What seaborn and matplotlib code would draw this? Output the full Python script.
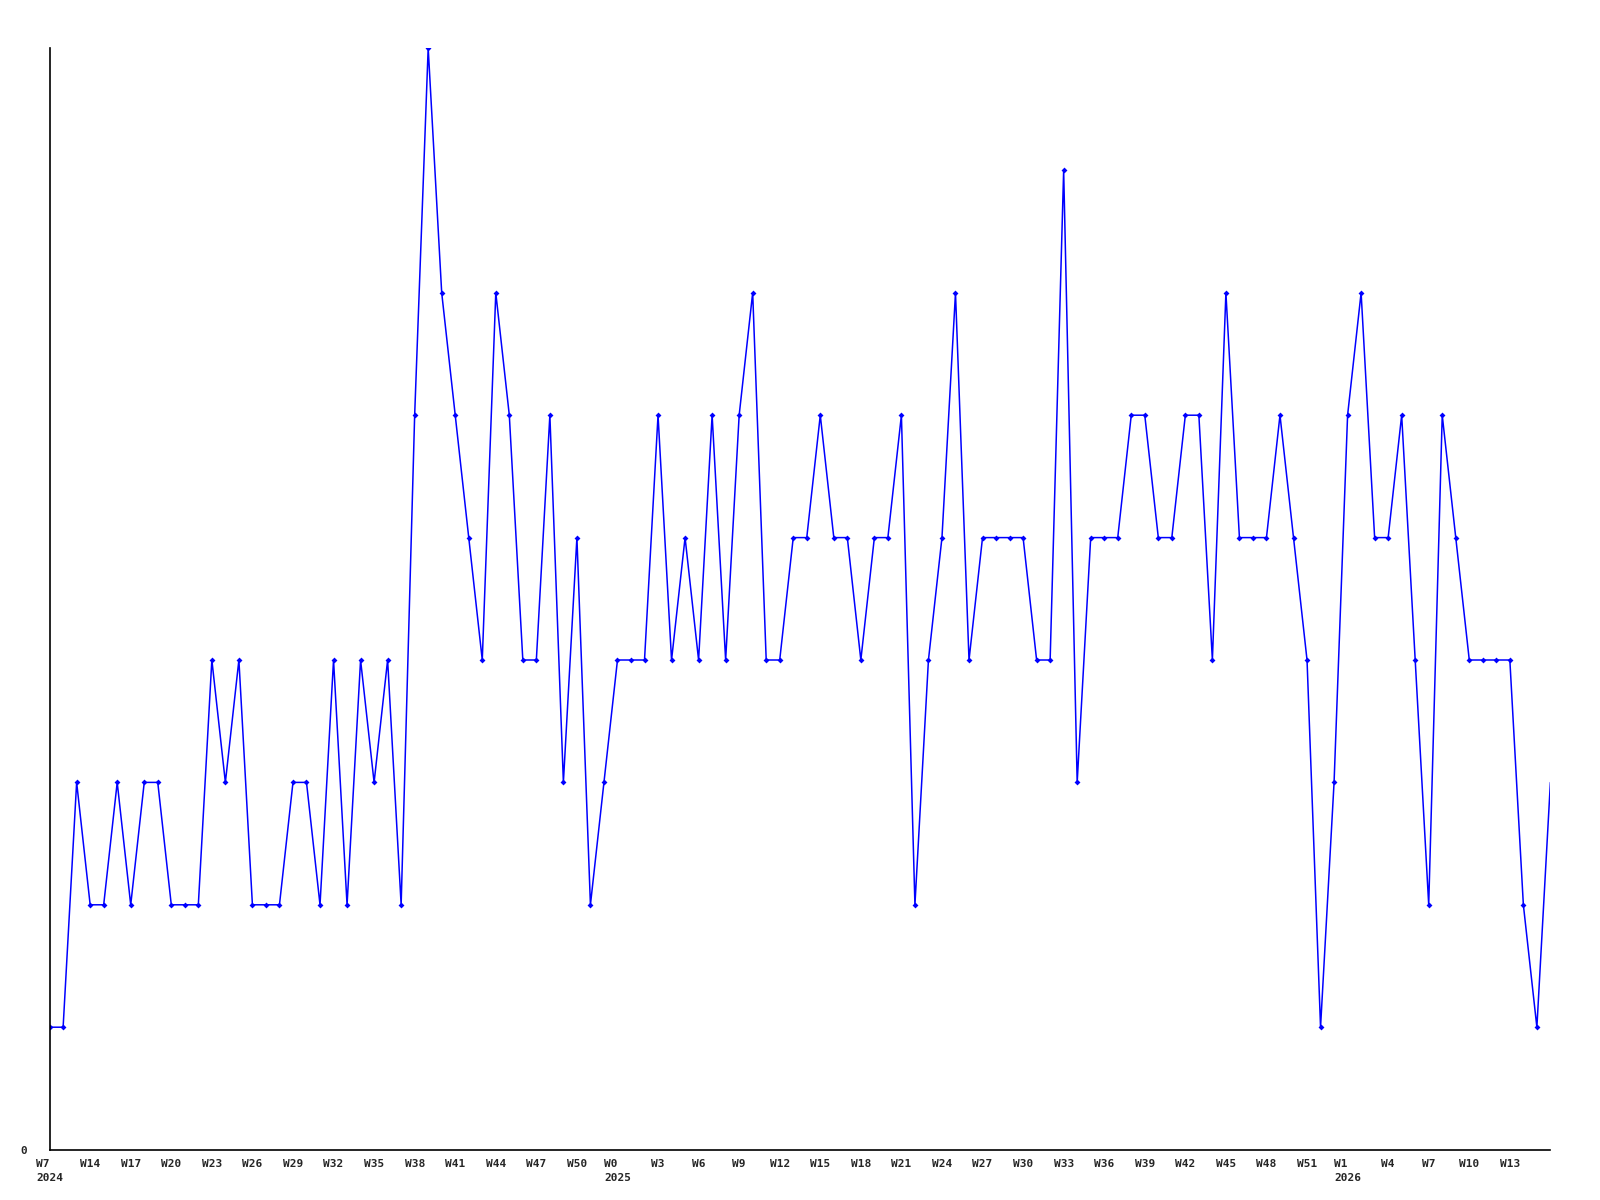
#%% imports
import numpy as np
import pandas as pd
import seaborn as sns
import matplotlib.pyplot as plt

#%% data (one value per week)
counts = [1, 1, 3, 2, 2, 3, 2, 3, 3, 2, 2, 2, 4, 3, 4, 2, 2, 2, 3, 3,
          2, 4, 2, 4, 3, 4, 2, 6, 9, 7, 6, 5, 4, 7, 6, 4, 4, 6, 3, 5,
          2, 3, 4, 4, 4, 6, 4, 5, 4, 6, 4, 6, 7, 4, 4, 5, 5, 6, 5, 5,
          4, 5, 5, 6, 2, 4, 5, 7, 4, 5, 5, 5, 5, 4, 4, 8, 3, 5, 5, 5,
          6, 6, 5, 5, 6, 6, 4, 7, 5, 5, 5, 6, 5, 4, 1, 3, 6, 7, 5, 5,
          6, 4, 2, 6, 5, 4, 4, 4, 4, 2, 1, 3]

tick_pos = list(range(0, 109, 3))
tick_labels = ['W7\n2024', 'W14', 'W17', 'W20', 'W23', 'W26', 'W29', 'W32',
               'W35', 'W38', 'W41', 'W44', 'W47', 'W50', 'W0\n2025', 'W3',
               'W6', 'W9', 'W12', 'W15', 'W18', 'W21', 'W24', 'W27', 'W30',
               'W33', 'W36', 'W39', 'W42', 'W45', 'W48', 'W51', 'W1\n2026',
               'W4', 'W7', 'W10', 'W13']

df = pd.DataFrame({'week': np.arange(len(counts)), 'count': counts})

#%% plot
sns.set_style("white")
fig, ax = plt.subplots(figsize=(16, 12), dpi=100)
fig.subplots_adjust(left=0.031, right=0.969, top=0.96, bottom=0.042)

# last week has no marker in the original
sns.lineplot(data=df, x='week', y='count', ax=ax, color='#0000ff',
             linewidth=1.1, marker='D', markersize=3, markeredgewidth=0,
             markevery=list(range(len(counts) - 1)))

ax.set_xlim(0, len(counts) - 1)
ax.set_ylim(0, max(counts))
ax.set_xlabel('')
ax.set_ylabel('')

ax.set_xticks(tick_pos)
ax.set_xticklabels(tick_labels, family='DejaVu Sans Mono', fontweight='bold',
                   fontsize=8, multialignment='left', linespacing=1.5)
ax.set_yticks([0])
ax.set_yticklabels(['0'], family='DejaVu Sans Mono', fontweight='bold', fontsize=8)
ax.tick_params(axis='both', length=0)
ax.tick_params(axis='x', pad=7)
ax.tick_params(axis='y', pad=16)

sns.despine(ax=ax)
for s in ['left', 'bottom']:
    ax.spines[s].set_color('black')
    ax.spines[s].set_linewidth(1.2)

fig.savefig('out.png', dpi=100)
